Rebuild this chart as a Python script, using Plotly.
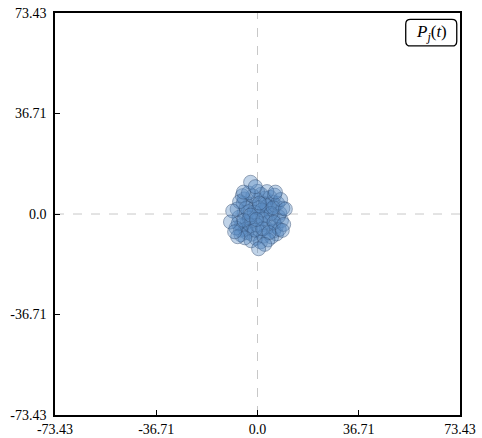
import plotly.graph_objects as go

x_vals = [0.5, 2.4, -1.6, 1.8, -0.9, 4.3, -3.7, 3.2, -2.8, 5.6,
          -4.9, 0.2, 0.9, 6.4, -5.8, 2.7, -2.1, 6.8, -5.2, 4.6,
          -3.9, 8.1, -6.7, 1.3, -0.6, 3.5, -2.6, 3.1, -3.4, 0.4,
          -0.2, 5.4, -4.4, 5.9, -4.8, 7.3, -6.2, 2.2, -1.7, 6.9,
          -5.5, 8.7, -7.4, 1.1, 4.0, -3.0, 7.6, -1.2, 2.9, -4.1,
          5.1, -6.0, 0.0, 3.8, -2.3, 6.2, -7.0, 1.6, 9.2, -7.8,
          4.9, -1.0, 2.0, -3.3, 7.9, -5.0, 0.7, 3.4, -6.5, 5.7,
          8.4, -2.5, 1.9, -4.6, 6.0, -0.4, 4.2, -7.2, 9.5, 2.6,
          -2.5, -5.1, 6.5, 10.1, -9.0, -9.8, 0.4, -8.3, 9.0, -0.8]
y_vals = [-0.8, 1.2, -2.4, -3.9, 2.6, 1.9, -3.1, -5.2, 3.6, -1.7,
          0.4, 5.1, -6.3, 3.2, -4.2, 5.8, -7.4, -4.6, 3.9, 6.1,
          -6.8, 0.3, -1.2, 7.2, -8.9, 2.8, -4.3, -0.6, 0.9, 2.3,
          -4.1, 4.4, -5.6, -6.2, 5.5, 3.9, -5.9, -8.1, 6.6, -7.3,
          6.7, -2.4, 1.8, -10.2, -3.0, -1.5, -0.9, 0.7, 3.7, 2.2,
          -8.4, -7.6, 8.3, -9.5, -9.8, 6.9, -3.4, 1.5, 2.1, -5.1,
          0.2, -5.9, -1.8, 7.7, -5.6, -2.3, 4.0, 8.2, 4.5, 2.3,
          5.3, -0.4, -5.4, -8.7, -3.1, -2.0, -6.8, -8.3, -3.8, -11.1,
          11.6, 8.0, 8.0, 1.8, 1.1, -2.9, -12.7, -6.5, -6.0, 10.0]

lim = 73.43
tick_vals = [-73.43, -36.71, 0.0, 36.71, 73.43]
tick_text = ["-73.43", "-36.71", "0.0", "36.71", "73.43"]

fig = go.Figure()
fig.add_trace(go.Scatter(
    x=x_vals, y=y_vals, mode="markers",
    marker=dict(size=14, color="rgba(90,140,195,0.38)",
                line=dict(color="rgba(50,75,110,0.45)", width=1)),
    showlegend=False, hoverinfo="skip"))

fig.add_shape(type="line", xref="x", yref="paper", x0=0, x1=0, y0=0, y1=1,
              line=dict(color="#c8c8c8", width=1, dash="dash"), layer="below")
fig.add_shape(type="line", xref="paper", yref="y", x0=0, x1=1, y0=0, y1=0,
              line=dict(color="#c8c8c8", width=1, dash="dash"), layer="below")

# rounded legend-like box
x0, x1, y0, y1, r = 0.866, 0.992, 0.918, 0.984, 0.012
path = (f"M {x0+r},{y0} L {x1-r},{y0} Q {x1},{y0} {x1},{y0+r} "
        f"L {x1},{y1-r} Q {x1},{y1} {x1-r},{y1} L {x0+r},{y1} "
        f"Q {x0},{y1} {x0},{y1-r} L {x0},{y0+r} Q {x0},{y0} {x0+r},{y0} Z")
fig.add_shape(type="path", xref="paper", yref="paper", path=path,
              line=dict(color="black", width=1.3), fillcolor="white")
fig.add_annotation(xref="paper", yref="paper", x=(x0+x1)/2, y=(y0+y1)/2,
                   text="<i>P</i><sub><i>j</i></sub>(<i>t</i>)", showarrow=False,
                   font=dict(family="Liberation Serif", size=17, color="black"),
                   xanchor="center", yanchor="middle")

axis_common = dict(range=[-lim, lim], tickvals=tick_vals, ticktext=tick_text,
                   showgrid=False, zeroline=False, showline=True, linecolor="black",
                   linewidth=1.5, mirror=True, ticks="inside", ticklen=5,
                   tickcolor="black", automargin=False,
                   tickfont=dict(family="Liberation Serif", size=14, color="black"))

fig.update_layout(
    width=482, height=438,
    margin=dict(l=55, r=22, t=13, b=23),
    plot_bgcolor="white", paper_bgcolor="white",
    xaxis=dict(**axis_common, ticklabelstandoff=0),
    yaxis=dict(**axis_common, ticklabelstandoff=4),
)
fig.write_html("out.html")
